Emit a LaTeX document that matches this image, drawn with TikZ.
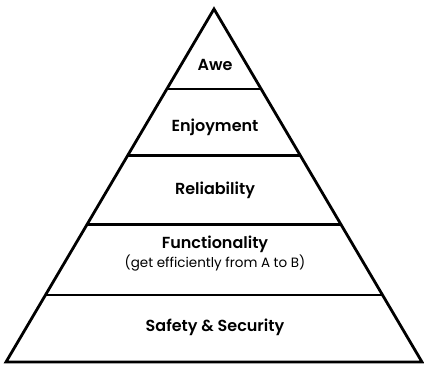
\documentclass[tikz,border=0pt]{standalone}
\usepackage{fontspec}
\setmainfont{Poppins}[BoldFont={Poppins SemiBold}]
\usetikzlibrary{calc}
\tikzset{
  edge/.style={line width=2.8pt, line join=miter},
  tier/.style={line width=2.6pt},
  lbl/.style={font=\fontsize{16}{18}\selectfont\bfseries, inner sep=0pt, anchor=center},
  sublbl/.style={font=\fontsize{13.5}{15}\selectfont, inner sep=0pt, anchor=center}
}
\begin{document}
\begin{tikzpicture}[x=1pt,y=-1pt]
\useasboundingbox (0,0) rectangle (424,366);
\coordinate (apex) at (214,9);
\coordinate (bl) at (6,362);
\coordinate (br) at (422,362);
\draw[edge] (apex) -- (bl) -- (br) -- cycle;
% tier boundaries
\foreach \n/\yy in {1/89,2/155.5,3/224.5,4/295}{
  \pgfmathsetmacro{\f}{(\yy-9)/353}
  \coordinate (l\n) at ($(apex)!\f!(bl)$);
  \coordinate (r\n) at ($(apex)!\f!(br)$);
  \draw[tier] (l\n) -- (r\n);
}
\node[lbl] (awe) at (215,65) {Awe};
\node[lbl] (enj) at (215,127) {Enjoyment};
\node[lbl] (rel) at (215,190) {Reliability};
\node[lbl] (fun) at (215,244) {Functionality};
\node[sublbl] (funsub) at (215,263) {(get efficiently from A to B)};
\node[lbl] (saf) at (215,327) {Safety \& Security};
\end{tikzpicture}
\end{document}
